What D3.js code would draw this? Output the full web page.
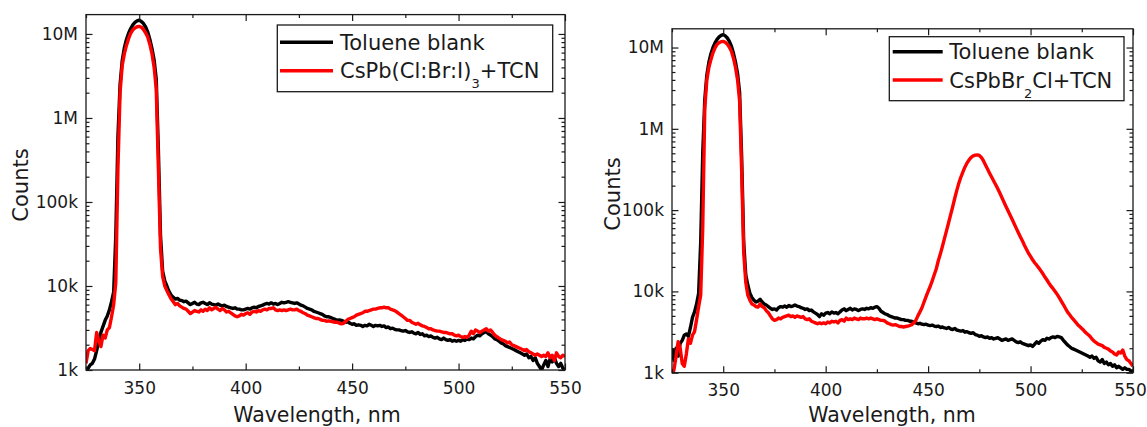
<!DOCTYPE html>
<html>
<head>
<meta charset="utf-8">
<script src="https://cdn.jsdelivr.net/npm/d3@7"></script>
<style>
  body { margin: 0; background: #fff; }
  text { font-family: "DejaVu Sans", sans-serif; fill: #1a1a1a; }
</style>
</head>
<body>
<svg id="chart" width="1147" height="427"></svg>
<script>
// wavelength grid, nm (1 nm steps)
var wavelength = d3.range(325, 551);

// counts in thousands
var leftBlank = [
  1.0,1.05,1.15,1.2,1.35,1.7,2.2,2.8,3.3,3.9,4.4,5.2,6.5,8.5,40,
  600,2500,4800,6800,8600,10200,11600,12800,13700,14300,14600,14100,13300,12100,10600,8600,6700,4900,2900,420,
  40,15,11.5,10,8.6,7.8,7.3,7.0,7.1,6.8,
  6.7,6.5,6.6,6.3,6.0,6.2,6.4,6.1,6.0,6.3,
  6.4,6.2,6.0,6.3,6.1,6.0,5.9,6.1,5.9,5.8,
  5.9,5.7,5.6,5.5,5.4,5.5,5.3,5.3,5.2,5.2,
  5.3,5.4,5.3,5.5,5.6,5.5,5.7,5.8,5.9,6.1,
  6.2,6.1,6.3,6.1,6.2,6.0,6.2,6.4,6.3,6.4,
  6.5,6.4,6.3,6.2,6.3,6.1,5.9,5.8,5.6,5.4,
  5.3,5.2,5.0,4.9,4.8,4.7,4.6,4.4,4.3,4.3,
  4.2,4.1,4.0,3.9,3.95,3.9,3.8,3.7,3.75,3.6,
  3.5,3.55,3.4,3.45,3.4,3.3,3.4,3.35,3.5,3.4,
  3.3,3.4,3.35,3.4,3.3,3.35,3.2,3.25,3.1,3.15,
  3.05,3.0,3.0,2.95,2.9,2.95,2.85,2.8,2.85,2.75,
  2.7,2.8,2.65,2.7,2.55,2.6,2.5,2.55,2.45,2.4,
  2.45,2.35,2.3,2.4,2.3,2.25,2.3,2.2,2.25,2.2,
  2.25,2.2,2.3,2.25,2.35,2.3,2.4,2.35,2.5,2.6,
  2.55,2.7,2.8,2.85,2.7,2.6,2.5,2.35,2.3,2.2,
  2.1,2.05,1.95,1.9,1.85,1.8,1.75,1.7,1.65,1.6,
  1.55,1.5,1.55,1.4,1.45,1.3,1.4,1.2,1.1,1.0,
  1.15,1.3,1.1,1.35,1.25,1.4,1.2,1.1,1.2,1.05,
  1.0
];

var leftSample = [
  1.2,1.7,1.8,1.75,1.7,2.8,2.2,1.9,2.6,2.4,3.0,3.2,4.3,6.0,11,
  250,2000,4200,5800,7300,8800,10200,11200,11800,12200,12300,12000,11300,10300,9200,7500,5800,4000,2200,250,
  28,13,10,8.8,7.8,7.0,6.5,6.0,6.2,5.8,
  5.6,5.4,5.3,5.0,4.7,4.9,5.1,5.0,4.9,5.2,
  5.0,5.3,5.1,5.5,5.2,5.4,5.6,5.3,5.1,5.4,
  5.2,4.9,5.0,4.8,4.6,4.4,4.3,4.4,4.6,4.5,
  4.7,4.8,4.6,4.9,5.0,4.9,5.1,5.0,5.2,5.3,
  5.2,5.4,5.4,5.5,5.2,5.1,5.2,5.1,5.2,5.1,
  5.2,5.3,5.2,5.2,5.3,5.1,5.0,4.8,4.7,4.5,
  4.4,4.3,4.2,4.1,4.1,4.0,3.9,3.9,3.8,3.85,
  3.8,3.75,3.7,3.7,3.6,3.55,3.6,3.8,4.0,4.1,
  4.2,4.3,4.5,4.6,4.7,4.8,5.0,5.0,5.1,5.2,
  5.3,5.3,5.4,5.5,5.5,5.6,5.5,5.5,5.3,5.2,
  5.1,4.9,4.7,4.5,4.3,4.1,3.9,3.9,3.7,3.6,
  3.5,3.6,3.45,3.35,3.3,3.2,3.1,3.1,3.0,2.95,
  2.9,2.9,2.85,2.8,2.8,2.75,2.7,2.7,2.6,2.55,
  2.6,2.5,2.45,2.5,2.45,2.6,2.9,2.7,3.0,2.9,
  2.8,2.9,3.0,3.1,2.9,3.0,2.8,2.6,2.5,2.4,
  2.3,2.25,2.2,2.1,2.15,2.0,1.95,1.9,1.85,1.8,
  1.75,1.7,1.75,1.65,1.6,1.55,1.5,1.55,1.5,1.45,
  1.5,1.45,1.6,1.4,1.5,1.3,1.6,1.45,1.4,1.5,
  1.45
];

var rightBlank = [
  2.0,1.4,2.0,1.6,2.3,2.5,2.9,3.0,2.8,3.6,4.8,5.6,7.0,9.5,40,
  500,2300,4600,6600,8400,10000,11400,12600,13500,14100,14400,13900,13100,11900,10400,8500,6600,4800,2800,450,
  40,16,12,9.5,8.4,7.8,7.4,7.6,8.0,7.4,
  7.0,6.8,6.5,6.2,6.0,6.1,5.9,6.3,6.5,6.4,
  6.6,6.4,6.7,6.5,6.6,6.8,6.6,6.5,6.3,6.2,
  6.0,6.1,5.8,5.9,5.6,5.4,5.2,4.9,5.3,5.1,
  5.4,5.5,5.3,5.6,5.4,5.5,5.3,5.6,5.9,6.1,
  5.8,6.0,6.2,5.9,6.1,6.0,5.8,6.0,6.1,6.0,
  6.2,6.1,6.3,6.2,6.4,6.5,6.2,5.7,5.5,5.3,
  5.2,5.0,4.9,4.8,4.7,4.7,4.6,4.5,4.5,4.4,
  4.4,4.3,4.3,4.2,4.1,4.0,4.05,3.95,3.9,3.95,
  3.85,3.8,3.85,3.75,3.7,3.75,3.6,3.65,3.55,3.5,
  3.6,3.45,3.4,3.5,3.35,3.3,3.25,3.3,3.15,3.2,
  3.1,3.05,3.1,2.95,2.9,2.8,2.85,2.75,2.7,2.75,
  2.65,2.7,2.6,2.65,2.7,2.6,2.5,2.55,2.6,2.5,
  2.55,2.6,2.5,2.4,2.35,2.4,2.3,2.25,2.2,2.15,
  2.2,2.1,2.25,2.4,2.3,2.45,2.55,2.5,2.65,2.6,
  2.7,2.75,2.7,2.8,2.75,2.7,2.5,2.35,2.2,2.1,
  2.0,1.95,1.9,1.85,1.8,1.75,1.7,1.65,1.6,1.55,
  1.6,1.5,1.55,1.4,1.35,1.45,1.3,1.35,1.25,1.3,
  1.2,1.25,1.15,1.2,1.15,1.1,1.15,1.1,1.1,1.05,
  1.05
];

var rightSample = [
  0.9,1.1,1.6,2.4,2.0,1.3,1.2,1.7,2.6,2.3,2.9,3.2,4.5,6.5,9,
  60,1800,4000,5700,7100,8600,9900,10900,11500,11800,11900,11600,11000,10100,9000,7400,5700,4000,2200,300,
  30,13,9,7.8,7.0,6.8,6.5,6.4,7.0,6.5,
  6.3,5.8,5.5,5.0,4.6,4.4,4.5,4.7,4.6,4.8,
  4.9,5.0,5.1,4.9,5.0,4.8,5.0,4.9,4.8,4.9,
  4.6,4.5,4.6,4.3,4.2,4.1,4.0,4.1,4.0,4.1,
  4.0,4.2,4.1,4.3,4.2,4.3,4.1,4.4,4.5,4.3,
  4.7,4.5,4.6,4.5,4.7,4.6,4.5,4.7,4.6,4.6,
  4.7,4.6,4.7,4.6,4.5,4.6,4.5,4.4,4.4,4.3,
  4.1,4.0,3.9,3.85,3.9,3.8,3.7,3.7,3.65,3.7,
  3.75,3.8,3.9,4.1,4.4,5.0,5.6,6.3,7.4,8.6,
  10,11.5,13.5,16,19,24,29,36,45,56,
  70,88,110,140,175,215,255,295,340,380,
  415,445,465,475,478,470,445,405,360,320,
  285,255,228,205,183,162,143,126,111,98,
  87,77,68,60,53,47,42,37,33,29.5,
  27,24.5,22.5,21,19.5,18,16.5,15,13.8,12.6,
  11.6,10.8,10,9.2,8.4,7.6,6.9,6.2,5.6,5.2,
  4.8,4.5,4.2,3.9,3.7,3.5,3.3,3.1,2.95,2.8,
  2.6,2.45,2.35,2.25,2.2,2.15,2.05,2.0,1.95,1.85,
  1.8,1.7,1.65,1.8,1.75,1.9,1.6,1.45,1.4,1.3,
  1.2
];

var blankLabel = "Toluene blank";
var leftSampleLabel = ["CsPb(Cl:Br:I)", "3", "+TCN"];
var rightSampleLabel = ["CsPbBr", "2", "Cl+TCN"];

var xMajorTicks = [350, 400, 450, 500, 550];
var xMinorTicks = [325, 375, 425, 475, 525];
var yMajorTicks = [1e3, 1e4, 1e5, 1e6, 1e7];
var yTickLabels = ["1k", "10k", "100k", "1M", "10M"];
var yMinorTicks = [];
[1e3, 1e4, 1e5, 1e6].forEach(function(d) {
    for (var m = 2; m <= 9; m++) yMinorTicks.push(d * m);
});

var svg = d3.select("#chart");

function drawPanel(p, id) {
    var x = d3.scaleLinear().domain([325, 550]).range([p.left, p.right]);
    var y = d3.scaleLog().domain([1e3, 1.7e7]).range([p.bottom, p.top]);
    var g = svg.append("g");

    g.append("clipPath").attr("id", "clip" + id)
        .append("rect")
        .attr("x", p.left).attr("y", p.top)
        .attr("width", p.right - p.left).attr("height", p.bottom - p.top);

    var line = d3.line()
        .x(function(d, i) { return x(wavelength[i]); })
        .y(function(d) { return y(d * 1000); });

    var curves = g.append("g").attr("clip-path", "url(#clip" + id + ")");
    curves.append("path").datum(p.blank)
        .attr("d", line).attr("fill", "none")
        .attr("stroke", "#000").attr("stroke-width", 3.4).attr("stroke-linejoin", "round");
    curves.append("path").datum(p.sample)
        .attr("d", line).attr("fill", "none")
        .attr("stroke", "#ff0000").attr("stroke-width", 3.4).attr("stroke-linejoin", "round");

    // axes, ticks pointing inwards on all four sides
    var ySpan = p.bottom - p.top, xSpan = p.right - p.left;
    function axis(gen, tr) {
        var a = g.append("g").attr("transform", tr).call(gen);
        a.select(".domain").remove();
        a.selectAll("line").attr("stroke", "#1a1a1a").attr("stroke-width", 1.2);
        a.selectAll("text").attr("font-size", 17).attr("font-family", "DejaVu Sans").attr("fill", "#1a1a1a");
        return a;
    }
    var xa = axis(d3.axisBottom(x).tickValues(xMajorTicks).tickSize(-6.5).tickPadding(11.5).tickFormat(d3.format("d")),
        "translate(0," + p.bottom + ")");
    // last label sits on the page edge in the right panel
    if (p.lastLabelShift) {
        xa.selectAll("text").filter(function(d) { return d === 550; })
            .attr("x", p.lastLabelShift);
    }
    axis(d3.axisBottom(x).tickValues(xMinorTicks).tickSize(-3.5).tickFormat(""),
        "translate(0," + p.bottom + ")");
    axis(d3.axisTop(x).tickValues(xMajorTicks).tickSize(-6.5).tickFormat(""),
        "translate(0," + p.top + ")");
    axis(d3.axisTop(x).tickValues(xMinorTicks).tickSize(-3.5).tickFormat(""),
        "translate(0," + p.top + ")");
    axis(d3.axisLeft(y).tickValues(yMajorTicks).tickSize(-6.5).tickPadding(8)
        .tickFormat(function(d, i) { return yTickLabels[i]; }),
        "translate(" + p.left + ",0)");
    axis(d3.axisLeft(y).tickValues(yMinorTicks).tickSize(-3.5).tickFormat(""),
        "translate(" + p.left + ",0)");
    axis(d3.axisRight(y).tickValues(yMajorTicks).tickSize(-6.5).tickFormat(""),
        "translate(" + p.right + ",0)");
    axis(d3.axisRight(y).tickValues(yMinorTicks).tickSize(-3.5).tickFormat(""),
        "translate(" + p.right + ",0)");

    g.append("rect")
        .attr("x", p.left).attr("y", p.top)
        .attr("width", xSpan).attr("height", ySpan)
        .attr("fill", "none").attr("stroke", "#1a1a1a").attr("stroke-width", 1.3);

    // axis titles
    g.append("text")
        .attr("x", p.titleX).attr("y", 422)
        .attr("text-anchor", "middle").attr("font-size", 20.5)
        .text("Wavelength, nm");
    g.append("text")
        .attr("transform", "translate(" + p.countsX + "," + p.countsY + ") rotate(-90)")
        .attr("text-anchor", "middle").attr("font-size", 21)
        .text("Counts");

    // legend
    var L = p.legend;
    g.append("rect")
        .attr("x", L.x).attr("y", L.y).attr("width", L.w).attr("height", L.h)
        .attr("fill", "#fff").attr("stroke", "#1a1a1a").attr("stroke-width", 1.3);
    var rows = [
        { color: "#000", parts: [blankLabel] },
        { color: "#ff0000", parts: p.sampleLabel }
    ];
    rows.forEach(function(r, i) {
        var cy = L.y + L.rows[i];
        g.append("line")
            .attr("x1", L.x + L.lineFrom).attr("x2", L.x + L.lineTo)
            .attr("y1", cy).attr("y2", cy)
            .attr("stroke", r.color).attr("stroke-width", 3.5);
        var t = g.append("text")
            .attr("x", L.x + L.textX).attr("y", cy + 7.5)
            .attr("font-size", 21);
        t.append("tspan").text(r.parts[0]);
        if (r.parts.length > 1) {
            t.append("tspan").attr("dy", 10).attr("font-size", 13).text(r.parts[1]);
            t.append("tspan").attr("dy", -10).text(r.parts[2]);
        }
    });
}

drawPanel({
    left: 86, right: 565, top: 14.6, bottom: 370,
    blank: leftBlank, sample: leftSample, sampleLabel: leftSampleLabel,
    titleX: 317, countsX: 28, countsY: 185,
    legend: { x: 277.3, y: 25, w: 275.4, h: 66.7, rows: [17.3, 45.7], lineFrom: 2.7, lineTo: 55.7, textX: 62.7 }
}, "L");

drawPanel({
    left: 672, right: 1133, top: 28.8, bottom: 372.7,
    blank: rightBlank, sample: rightSample, sampleLabel: rightSampleLabel,
    titleX: 892, countsX: 620, countsY: 194, lastLabelShift: -3,
    legend: { x: 889.3, y: 36.7, w: 234.7, h: 64, rows: [15, 43.3], lineFrom: 3.4, lineTo: 53.4, textX: 60 }
}, "R");
</script>
</body>
</html>
